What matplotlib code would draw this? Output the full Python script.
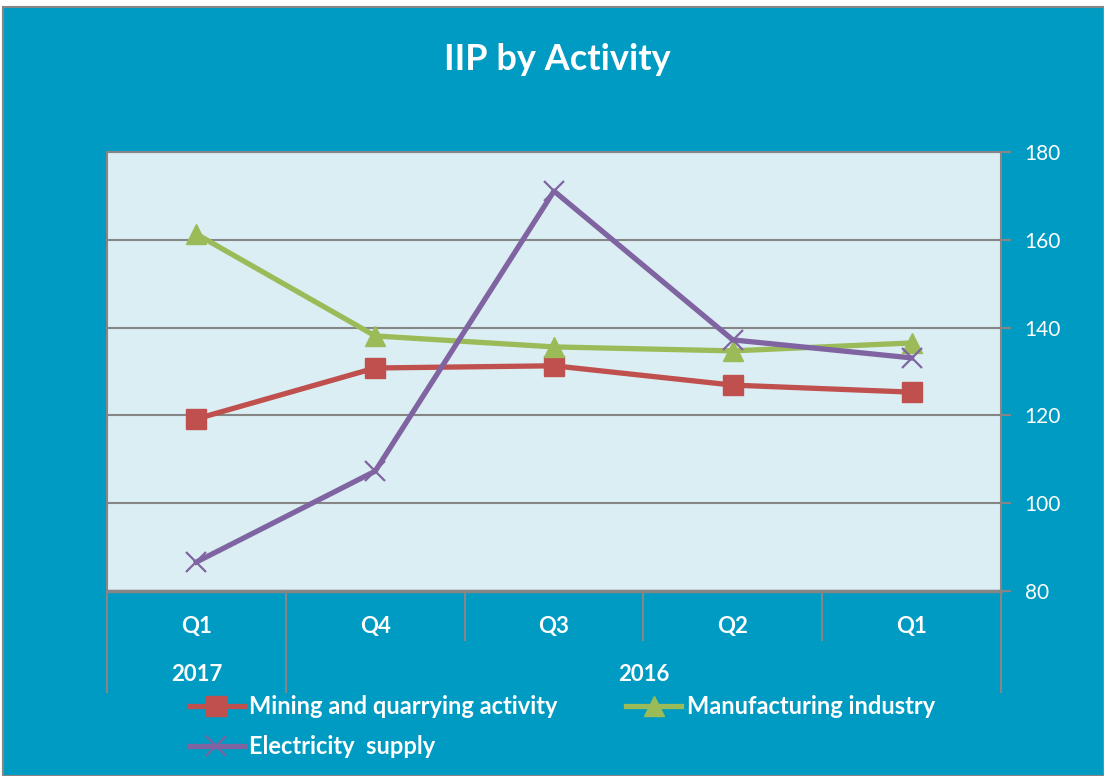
import matplotlib.pyplot as plt
from matplotlib.patches import Rectangle
import matplotlib.transforms as mtransforms

# Data
quarters = ['Q1', 'Q4', 'Q3', 'Q2', 'Q1']
years = ['2017', '2016']
year_spans = [(0, 1), (1, 5)]  # category index ranges for each year
mining = [119.2, 130.8, 131.3, 126.9, 125.3]
manufacturing = [161.3, 138.1, 135.6, 134.7, 136.5]
electricity = [86.6, 107.3, 171.1, 137.2, 133.1]
y_ticks = [80, 100, 120, 140, 160, 180]

BG = '#009BC2'
PLOT_BG = '#DAEEF3'
GRAY = '#868686'
RED = '#C0504D'
GREEN = '#9BBB59'
PURPLE = '#8064A2'
FONT = ['Lato', 'DejaVu Sans']

plt.rcParams['font.family'] = FONT

fig = plt.figure(figsize=(11.04, 7.76), dpi=100)
fig.patch.set_facecolor('white')
# teal chart area with thin gray border
fig.patches.append(Rectangle((3 / 1104, 0), 1 - 3 / 1104, 1 - 7 / 776,
                             transform=fig.transFigure, facecolor=BG,
                             edgecolor=GRAY, linewidth=1.5, zorder=-10))

ax = fig.add_axes([107 / 1104, 1 - 591 / 776, 894 / 1104, 439 / 776])
ax.set_facecolor(PLOT_BG)

x = list(range(len(quarters)))
l1, = ax.plot(x, mining, color=RED, linewidth=3.8, marker='s', markersize=14,
              label='Mining and quarrying activity', zorder=3)
l2, = ax.plot(x, manufacturing, color=GREEN, linewidth=3.8, marker='^',
              markersize=14, label='Manufacturing industry', zorder=3)
l3, = ax.plot(x, electricity, color=PURPLE, linewidth=3.8, marker='x',
              markersize=14, markeredgewidth=1.6, label='Electricity  supply',
              zorder=3)

ax.set_xlim(-0.5, len(quarters) - 0.5)
ax.set_ylim(80, 180)
ax.set_yticks(y_ticks)
ax.yaxis.tick_right()
ax.tick_params(axis='y', colors=GRAY, labelcolor='white', labelsize=15,
               length=7, width=1.5, direction='out', pad=10)
ax.grid(axis='y', color=GRAY, linewidth=1.5)
ax.set_axisbelow(True)
for s in ax.spines.values():
    s.set_color(GRAY)
    s.set_linewidth(1.5)
ax.spines['bottom'].set_linewidth(2.5)

# multi-level category axis
ax.set_xticks([])
trans = mtransforms.blended_transform_factory(ax.transData, ax.transAxes)
for i, q in enumerate(quarters):
    ax.text(i, -0.082, q, transform=trans, ha='center', va='center',
            color='white', fontsize=16, fontweight='bold')
for b in range(1, len(quarters)):
    ax.plot([b - 0.5, b - 0.5], [0, -0.112], transform=trans, color=GRAY,
            linewidth=1.5, clip_on=False)
edges = sorted({s for span in year_spans for s in span})
for e in edges:
    ax.plot([e - 0.5, e - 0.5], [0, -0.23], transform=trans, color=GRAY,
            linewidth=1.5, clip_on=False)
for yr, (a, b) in zip(years, year_spans):
    ax.text((a + b - 1) / 2, -0.191, yr, transform=trans, ha='center',
            va='center', color='white', fontsize=16, fontweight='bold')

fig.text(0.505, 1 - 60 / 776, 'IIP by Activity', ha='center', va='center',
         color='white', fontsize=26, fontweight='bold')

# legend: row-major order (Mining, Manufacturing / Electricity)
leg = fig.legend([l1, l3, l2], [l1.get_label(), l3.get_label(), l2.get_label()],
                 loc='upper left', bbox_to_anchor=(168 / 1104, 1 - 674 / 776),
                 ncol=2, frameon=False, handlelength=2.3,
                 handletextpad=0.25, columnspacing=2.9, labelspacing=0.7,
                 prop={'family': FONT, 'weight': 'bold', 'size': 17})
for t in leg.get_texts():
    t.set_color('white')

fig.savefig('out.png', dpi=100, facecolor=fig.get_facecolor())
